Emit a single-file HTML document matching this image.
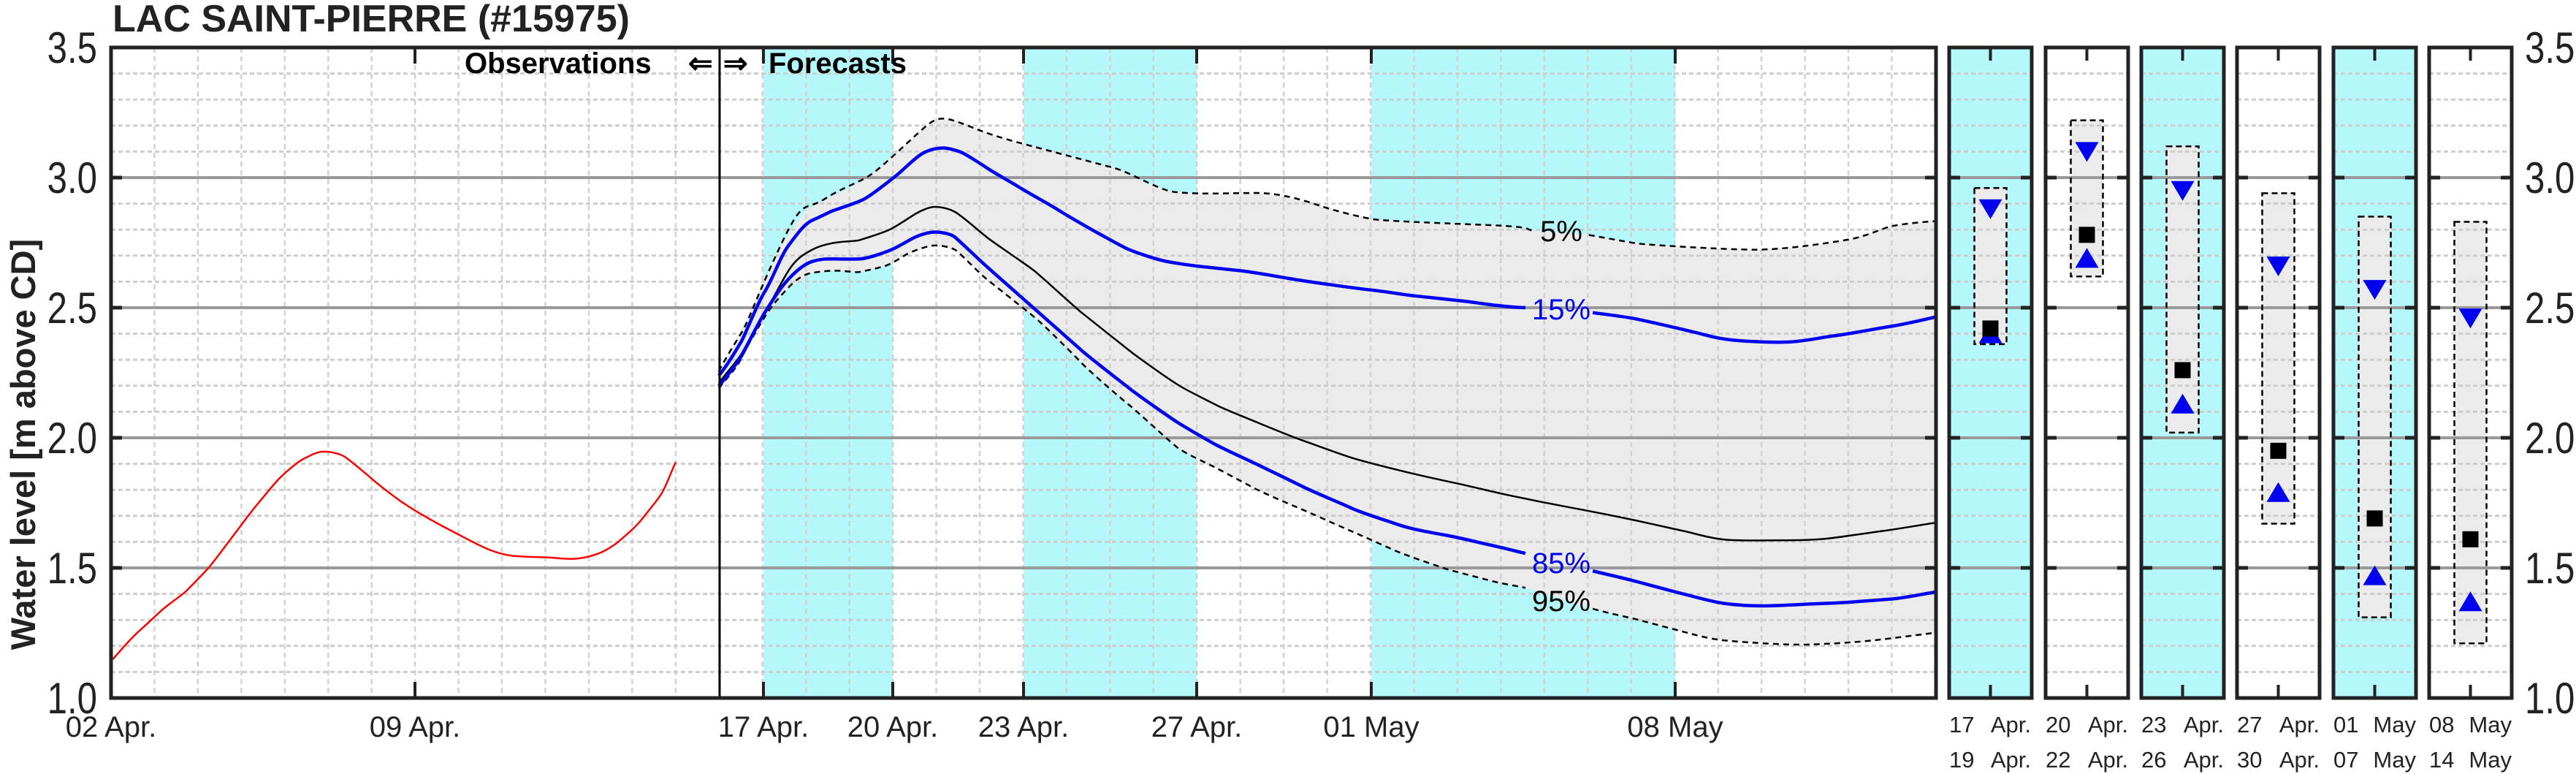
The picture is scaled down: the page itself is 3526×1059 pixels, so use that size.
<!DOCTYPE html>
<html><head><meta charset="utf-8"><style>
html,body{margin:0;padding:0;background:#fff;}
svg{display:block;font-family:"Liberation Sans",sans-serif;}
</style></head><body>
<svg id="s" width="3526" height="1059" viewBox="0 0 3526 1059" xmlns="http://www.w3.org/2000/svg">
<rect width="3526" height="1059" fill="#fff"/>
<g id="bg"></g>
<g transform="translate(960,60) scale(1.0846,0.5747)">
<path fill="#ebebeb" d="M22,780 L40,720 L70,600 L100,480 L130,400 L155,370 L185,345 L215,310 L245,260 L275,210 L300,180 L320,182 L350,205 L380,225 L420,245 L470,270 L520,295 L560,330 L590,350 L630,357 L700,355 L740,365 L780,385 L820,405 L850,418 L900,424 L1000,432 L1050,445 L1085,450 L1120,455 L1180,475 L1250,485 L1330,490 L1400,482 L1450,465 L1500,435 L1558,422 L1558,1402 L1480,1420 L1400,1430 L1290,1420 L1240,1400 L1180,1370 L1125,1345 L1085,1320 L1040,1295 L1000,1280 L940,1250 L880,1210 L820,1160 L760,1110 L700,1060 L650,1010 L600,960 L540,860 L480,760 L420,650 L360,560 L320,490 L295,480 L260,500 L230,530 L200,543 L170,540 L140,545 L110,580 L80,650 L50,750 L22,820 Z"/>
</g>
<g id="grid"></g>
<g transform="translate(960,60) scale(1.0846,0.5747)" fill="none" stroke-linejoin="round">
<g stroke="#000" stroke-width="2.5" stroke-dasharray="8 6" vector-effect="non-scaling-stroke">
<path vector-effect="non-scaling-stroke" d="M22,780 C30,750 40,720 50,690 S70,600 100,480 S130,400 155,370 S200,330 215,310 S260,235 275,210 S295,178 305,178 S330,190 350,205 S400,235 420,245 S500,285 520,295 S570,340 590,350 S670,355 700,355 S760,372 780,385 S835,414 850,418 S950,428 1000,432 S1040,442 1050,445"/>
<path vector-effect="non-scaling-stroke" d="M1120,455 C1150,465 1170,472 1180,475 S1290,490 1330,490 S1430,472 1450,465 S1490,440 1500,435 S1540,424 1558,422"/>
<path vector-effect="non-scaling-stroke" d="M22,820 C35,790 45,770 50,750 S70,680 80,650 S100,600 110,580 S130,548 140,545 S160,540 170,540 S195,545 200,543 S220,535 230,530 S255,505 260,500 S285,480 295,480 S315,485 320,490 S350,545 360,560 S410,635 420,650 S470,740 480,760 S530,845 540,860 S590,945 600,960 S640,1000 650,1010 S690,1050 700,1060 S750,1102 760,1110 S810,1152 820,1160 S870,1202 880,1210 S930,1244 940,1250 S990,1275 1000,1280 S1030,1291 1040,1295"/>
<path vector-effect="non-scaling-stroke" d="M1125,1345 C1150,1358 1170,1365 1180,1370 S1230,1395 1240,1400 S1270,1416 1290,1420 S1370,1432 1400,1430 S1460,1424 1480,1420 S1540,1406 1558,1402"/>
</g>
<path stroke="#000" stroke-width="2.5" vector-effect="non-scaling-stroke" d="M22,808 C35,775 45,755 50,740 S70,670 80,640 S100,570 110,540 S130,500 140,490 S160,476 170,473 S195,470 200,467 S230,450 240,440 S262,414 270,405 S288,388 295,388 S312,392 320,400 S350,445 360,460 S410,525 420,540 S470,625 480,640 S530,715 540,730 S585,792 600,810 S640,850 650,860 S690,892 700,900 S745,935 760,945 S805,976 820,985 S865,1008 880,1015 S930,1037 950,1045 S1000,1067 1020,1075 S1080,1098 1100,1105 S1160,1127 1180,1135 S1225,1154 1240,1160 S1270,1176 1290,1180 S1340,1182 1360,1182 S1405,1181 1420,1178 S1470,1165 1490,1160 S1540,1145 1558,1140"/>
<g stroke="#0000f0" stroke-width="4.5">
<path vector-effect="non-scaling-stroke" d="M22,790 C35,760 45,725 50,710 S70,620 80,590 S100,505 110,480 S130,428 140,420 S160,402 165,398 S195,380 205,370 S235,330 245,315 S270,270 280,260 S298,248 305,248 S325,255 330,260 S350,282 360,295 S390,328 400,340 S440,383 450,395 S490,440 500,450 S530,482 540,490 S570,510 580,515 S615,527 630,530 S665,537 680,540 S725,553 740,558 S785,571 800,575 S835,584 850,587 S885,597 900,600 S945,609 960,612 S990,620 1000,622 S1030,628 1040,628"/>
<path vector-effect="non-scaling-stroke" d="M1125,640 C1150,646 1170,651 1180,655 S1230,676 1250,685 S1280,701 1300,705 S1350,711 1370,710 S1410,700 1430,695 S1480,679 1500,673 S1540,658 1558,650"/>
<path vector-effect="non-scaling-stroke" d="M22,815 C35,785 45,760 50,745 S70,670 80,640 S100,580 110,560 S130,524 140,518 S158,512 165,512 S190,513 200,512 S230,498 240,490 S262,467 270,460 S288,448 295,448 S315,452 320,460 S350,513 360,530 S410,613 420,630 S470,713 480,730 S530,805 540,820 S590,888 600,900 S640,945 650,955 S690,991 700,1000 S745,1041 760,1055 S805,1092 820,1105 S865,1135 880,1145 S920,1163 940,1170 S985,1189 1000,1195 S1030,1209 1040,1213"/>
<path vector-effect="non-scaling-stroke" d="M1125,1255 C1150,1266 1170,1275 1180,1280 S1225,1303 1240,1310 S1275,1328 1290,1332 S1320,1338 1340,1338 S1400,1333 1420,1332 S1480,1325 1500,1322 S1540,1310 1558,1305"/>
</g>
</g>
<g transform="translate(0,400) scale(0.6378,0.4167)" fill="none">
<path stroke="#f00" stroke-width="2.5" vector-effect="non-scaling-stroke" d="M242,1205 C270,1155 285,1130 300,1110 S335,1060 350,1040 S390,995 400,980 S440,918 450,900 S490,820 500,800 S540,718 550,700 S590,625 600,610 S635,560 650,548 S680,523 695,523 S730,530 740,540 S785,595 800,615 S840,663 850,675 S890,716 900,725 S940,760 950,768 S990,800 1000,808 S1035,836 1050,845 S1080,862 1100,865 S1150,869 1170,870 S1210,876 1230,875 S1265,868 1280,860 S1315,835 1330,815 S1365,770 1380,740 S1410,685 1420,660 S1440,590 1450,558"/>
</g>
<line x1="985" y1="65" x2="985" y2="955" stroke="#000" stroke-width="3"/>
<g id="fg"></g>
<g font-size="40" text-anchor="middle">
<text x="2137" y="330">5%</text>
<text x="2137" y="437" fill="#0000f0">15%</text>
<text x="2137" y="784" fill="#0000f0">85%</text>
<text x="2137" y="836">95%</text>
</g>
<g font-size="40" font-weight="bold">
<text x="636" y="100">Observations</text>
<text x="942" y="100">⇐</text>
<text x="990" y="100">⇒</text>
<text x="1052" y="100">Forecasts</text>
</g>
<text x="154" y="43" font-size="52" font-weight="bold" fill="#222">LAC SAINT-PIERRE (#15975)</text>
<text transform="translate(48,608) rotate(-90)" font-size="47" font-weight="bold" text-anchor="middle" fill="#222">Water level [m above CD]</text>
<g font-size="60" fill="#222" text-anchor="end">
<text transform="translate(133,86) scale(0.82,1)">3.5</text>
<text transform="translate(133,264) scale(0.82,1)">3.0</text>
<text transform="translate(133,442) scale(0.82,1)">2.5</text>
<text transform="translate(133,620) scale(0.82,1)">2.0</text>
<text transform="translate(133,798) scale(0.82,1)">1.5</text>
<text transform="translate(133,976) scale(0.82,1)">1.0</text>
</g>
<g font-size="60" fill="#222">
<text transform="translate(3456,86) scale(0.82,1)">3.5</text>
<text transform="translate(3456,264) scale(0.82,1)">3.0</text>
<text transform="translate(3456,442) scale(0.82,1)">2.5</text>
<text transform="translate(3456,620) scale(0.82,1)">2.0</text>
<text transform="translate(3456,798) scale(0.82,1)">1.5</text>
<text transform="translate(3456,976) scale(0.82,1)">1.0</text>
</g>
<g font-size="40" fill="#222" text-anchor="middle">
<text x="152" y="1008">02 Apr.</text>
<text x="568" y="1008">09 Apr.</text>
<text x="1045" y="1008">17 Apr.</text>
<text x="1222" y="1008">20 Apr.</text>
<text x="1401" y="1008">23 Apr.</text>
<text x="1638" y="1008">27 Apr.</text>
<text x="1877" y="1008">01 May</text>
<text x="2293" y="1008">08 May</text>
</g>
<g font-size="31" fill="#222">
<text x="2668" y="1002">17</text><text x="2780" y="1002" text-anchor="end">Apr.</text>
<text x="2668" y="1050">19</text><text x="2780" y="1050" text-anchor="end">Apr.</text>
<text x="2800" y="1002">20</text><text x="2913" y="1002" text-anchor="end">Apr.</text>
<text x="2800" y="1050">22</text><text x="2913" y="1050" text-anchor="end">Apr.</text>
<text x="2931" y="1002">23</text><text x="3044" y="1002" text-anchor="end">Apr.</text>
<text x="2931" y="1050">26</text><text x="3044" y="1050" text-anchor="end">Apr.</text>
<text x="3062" y="1002">27</text><text x="3175" y="1002" text-anchor="end">Apr.</text>
<text x="3062" y="1050">30</text><text x="3175" y="1050" text-anchor="end">Apr.</text>
<text x="3194" y="1002">01</text><text x="3307" y="1002" text-anchor="end">May</text>
<text x="3194" y="1050">07</text><text x="3307" y="1050" text-anchor="end">May</text>
<text x="3325" y="1002">08</text><text x="3438" y="1002" text-anchor="end">May</text>
<text x="3325" y="1050">14</text><text x="3438" y="1050" text-anchor="end">May</text>
</g>
</svg>
<script>
(function(){
var NS="http://www.w3.org/2000/svg";
function el(p,t,a){var e=document.createElementNS(NS,t);for(var k in a)e.setAttribute(k,a[k]);p.appendChild(e);return e;}
var bg=document.getElementById('bg'),grid=document.getElementById('grid'),fg=document.getElementById('fg');
function Y(v){return 65+(3.5-v)*356;}
var L=152,R=2650,T=65,B=955,D=59.45;
[[1045,1222],[1401,1638],[1877,2293]].forEach(function(b){el(bg,'rect',{x:b[0],y:T,width:b[1]-b[0],height:B-T,fill:'#b4f8fb'});});
var panels=[2668,2800,2931,3062,3194,3325],PW=113;
panels.forEach(function(x,i){el(bg,'rect',{x:x,y:T,width:PW,height:B-T,fill:i%2==0?'#b4f8fb':'#fff'});});
function hgrid(x1,x2){
 for(var k=11;k<35;k++){ if(k%5==0)continue; var y=Y(k/10);
  el(grid,'line',{x1:x1,x2:x2,y1:y,y2:y,stroke:'#cdcdcd','stroke-width':3,'stroke-dasharray':'6 4'});}
 for(var v=1.5;v<3.4;v+=0.5){var y=Y(v);el(grid,'line',{x1:x1,x2:x2,y1:y,y2:y,stroke:'#999','stroke-width':4});
  el(fg,'line',{x1:x1,x2:x1+15,y1:y,y2:y,stroke:'#222','stroke-width':5});
  el(fg,'line',{x1:x2-15,x2:x2,y1:y,y2:y,stroke:'#222','stroke-width':5});}
}
for(var d=1;d<42;d++){var x=L+d*D;el(grid,'line',{x1:x,x2:x,y1:T,y2:B,stroke:'#d2d2d2','stroke-width':2.5,'stroke-dasharray':'7 5'});}
hgrid(L,R);
[568,1045,1222,1401,1638,1877,2293].forEach(function(x){
 el(fg,'line',{x1:x,x2:x,y1:T,y2:T+22,stroke:'#222','stroke-width':4});
 el(fg,'line',{x1:x,x2:x,y1:B-22,y2:B,stroke:'#222','stroke-width':4});});
el(fg,'rect',{x:L,y:T,width:R-L,height:B-T,fill:'none',stroke:'#222','stroke-width':5});
var data=[[2.96,2.36,2.88,2.42,2.40],[3.22,2.62,3.10,2.78,2.69],[3.12,2.02,2.95,2.26,2.13],[2.94,1.67,2.66,1.95,1.79],[2.85,1.31,2.57,1.69,1.47],[2.83,1.21,2.46,1.61,1.37]];
panels.forEach(function(x,i){
 var r=data[i],cx=x+PW/2;
 el(bg,'rect',{x:cx-22,y:Y(r[0]),width:44,height:Y(r[1])-Y(r[0]),fill:'#ebebeb'});
 hgrid(x,x+PW);
 el(fg,'rect',{x:cx-22,y:Y(r[0]),width:44,height:Y(r[1])-Y(r[0]),fill:'none',stroke:'#000','stroke-width':2.5,'stroke-dasharray':'8 5'});
 var y=Y(r[2]);el(fg,'polygon',{points:(cx-16)+','+(y-13)+' '+(cx+16)+','+(y-13)+' '+cx+','+(y+14),fill:'#0000f0'});
 y=Y(r[4]);el(fg,'polygon',{points:(cx-16)+','+(y+13)+' '+(cx+16)+','+(y+13)+' '+cx+','+(y-14),fill:'#0000f0'});
 y=Y(r[3]);el(fg,'rect',{x:cx-11,y:y-11,width:22,height:22,fill:'#000'});
 el(fg,'line',{x1:cx,x2:cx,y1:T,y2:T+18,stroke:'#222','stroke-width':4});
 el(fg,'line',{x1:cx,x2:cx,y1:B-18,y2:B,stroke:'#222','stroke-width':4});
 el(fg,'rect',{x:x,y:T,width:PW,height:B-T,fill:'none',stroke:'#222','stroke-width':5});
});
})();
</script>
</body></html>
